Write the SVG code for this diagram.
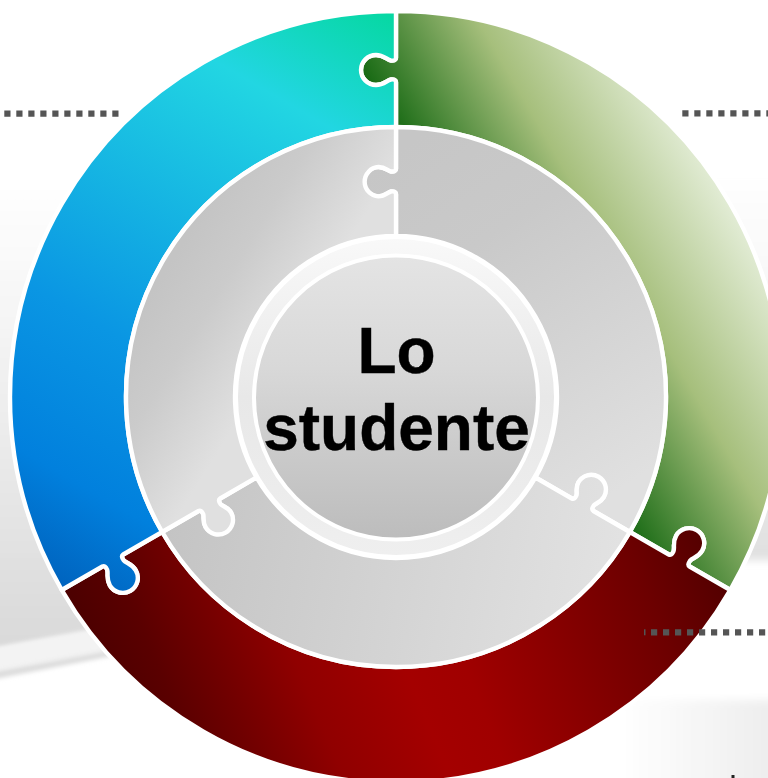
<svg xmlns="http://www.w3.org/2000/svg" width="768" height="778" viewBox="0 0 768 778">
<style>
.seg{stroke:#fff;stroke-width:4.4;stroke-linejoin:round}
.dots{fill:none;stroke:#555;stroke-width:6.2;stroke-dasharray:6.2 5.8}
.label{font-family:"Liberation Sans",Arial,sans-serif;font-weight:700;font-size:64px;fill:#000;stroke:#000;stroke-width:.4;text-anchor:middle}
</style>
<defs>
<filter id="b2" x="-20%" y="-20%" width="140%" height="140%"><feGaussianBlur stdDeviation="2"/></filter>
<filter id="b4" x="-20%" y="-20%" width="140%" height="140%"><feGaussianBlur stdDeviation="4"/></filter>
<linearGradient id="bgLeft" gradientUnits="userSpaceOnUse" x1="0" y1="180" x2="0" y2="650">
<stop offset="0" stop-color="#fff"/><stop offset=".3" stop-color="#f5f5f5"/><stop offset=".7" stop-color="#e5e5e5"/><stop offset="1" stop-color="#d9d9d9"/>
</linearGradient>
<linearGradient id="bgRight" gradientUnits="userSpaceOnUse" x1="0" y1="170" x2="0" y2="560">
<stop offset="0" stop-color="#fff"/><stop offset=".35" stop-color="#f6f6f6"/><stop offset="1" stop-color="#e0e0e0"/>
</linearGradient>
<linearGradient id="bgBottom" gradientUnits="userSpaceOnUse" x1="620" y1="0" x2="768" y2="0">
<stop offset="0" stop-color="#fff"/><stop offset="1" stop-color="#eee"/>
</linearGradient>
<linearGradient id="gGreen" gradientUnits="userSpaceOnUse" x1="512" y1="330" x2="730" y2="204">
<stop offset="0" stop-color="#186a14"/><stop offset=".5" stop-color="#a6bf7c"/><stop offset="1" stop-color="#e2ecd5"/>
</linearGradient>
<linearGradient id="gRed" gradientUnits="userSpaceOnUse" x1="46" y1="541" x2="617" y2="306" gradientTransform="rotate(-120 396 397)">
<stop offset="0" stop-color="#4c0000"/><stop offset=".09" stop-color="#5a0000"/><stop offset=".185" stop-color="#720000"/><stop offset=".3" stop-color="#900000"/><stop offset=".46" stop-color="#a40000"/><stop offset=".55" stop-color="#a00000"/><stop offset=".68" stop-color="#8c0000"/><stop offset=".87" stop-color="#6c0000"/><stop offset="1" stop-color="#520000"/>
</linearGradient>
<linearGradient id="gBlue" gradientUnits="userSpaceOnUse" x1="563" y1="108" x2="229" y2="686" gradientTransform="rotate(-240 396 397)">
<stop offset="0" stop-color="#05d8a0"/><stop offset=".2" stop-color="#22d6e2"/><stop offset=".63" stop-color="#0a96e3"/><stop offset=".85" stop-color="#0180dd"/><stop offset="1" stop-color="#0063be"/>
</linearGradient>
<linearGradient id="gIn1" gradientUnits="userSpaceOnUse" x1="430" y1="130" x2="650" y2="470">
<stop offset="0" stop-color="#c6c6c6"/><stop offset=".3" stop-color="#c9c9c9"/><stop offset="1" stop-color="#e0e0e0"/>
</linearGradient>
<linearGradient id="gIn2" gradientUnits="userSpaceOnUse" x1="170" y1="520" x2="610" y2="600" gradientTransform="rotate(-120 396 397)">
<stop offset="0" stop-color="#c4c4c4"/><stop offset="1" stop-color="#e2e2e2"/>
</linearGradient>
<linearGradient id="gIn3" gradientUnits="userSpaceOnUse" x1="216" y1="190" x2="335" y2="264" gradientTransform="rotate(-240 396 397)">
<stop offset="0" stop-color="#c4c4c4"/><stop offset=".4" stop-color="#cbcbcb"/><stop offset="1" stop-color="#e0e0e0"/>
</linearGradient>
<linearGradient id="gRing" x1="0" y1="0" x2="0" y2="1">
<stop offset="0" stop-color="#f9f9f9"/><stop offset=".5" stop-color="#e8e8e8"/><stop offset="1" stop-color="#efefef"/>
</linearGradient>
<linearGradient id="gHub" x1="0" y1="0" x2="0" y2="1">
<stop offset="0" stop-color="#e4e4e4"/><stop offset=".4" stop-color="#d8d8d8"/><stop offset="1" stop-color="#bcbcbc"/>
</linearGradient>
<path id="segOuter" d="M396 11A386 386 0 0 1 730.3 590L689.6 566.5Q687 565 689.9 560.9C692.3 557.7 698.2 557.6 702.2 550.7A15 15 0 0 0 676.2 535.7C672.2 542.6 675 547.7 673.5 551.4Q671.4 556 668.8 554.5L629.8 532A270 270 0 0 0 396 127L396 82Q396 79 391 79.5C387 80 384 85 376 85A15 15 0 0 1 376 55C384 55 387 60 391 60.5Q396 61 396 58Z"/>
<path id="segInner" d="M396 127A270 270 0 0 1 629.8 532L593.5 511Q590.9 509.5 593.8 505.4C595.7 503.1 600.7 502.5 603.9 496.8A14.7 14.7 0 0 0 578.5 482.1C575.2 487.8 577.5 492.6 576.5 495.4Q574.4 500 571.8 498.5L535.4 477.5A161 161 0 0 0 396 236L396 194Q396 191 391 191.5C388 192 385 196.4 378.5 196.4A14.7 14.7 0 0 1 378.5 167C385 167 388 171 391 171.5Q396 172 396 169Z"/>
</defs>
<rect id="background" width="768" height="778" fill="#fff"/>
<g id="swoosh">
<path d="M-20 180L150 180L150 622L-20 652Z" fill="url(#bgLeft)" filter="url(#b2)"/>
<path d="M-20 650L130 622L130 648L-20 674Z" fill="#f3f3f3" filter="url(#b2)"/>
<path d="M-20 674L112 650L112 656L-20 682Z" fill="#dcdcdc" filter="url(#b2)"/>
<path d="M690 170L790 170L790 560L690 560Z" fill="url(#bgRight)" filter="url(#b4)"/>
<rect x="600" y="700" width="190" height="96" fill="url(#bgBottom)" filter="url(#b4)"/>
</g>
<g id="node-green"><use href="#segOuter" class="seg" fill="url(#gGreen)"/></g>
<g id="node-red"><use href="#segOuter" class="seg" fill="url(#gRed)" transform="rotate(120 396 397)"/></g>
<g id="node-blue"><use href="#segOuter" class="seg" fill="url(#gBlue)" transform="rotate(240 396 397)"/></g>
<g id="node-inner-right"><use href="#segInner" class="seg" fill="url(#gIn1)"/></g>
<g id="node-inner-bottom"><use href="#segInner" class="seg" fill="url(#gIn2)" transform="rotate(120 396 397)"/></g>
<g id="node-inner-left"><use href="#segInner" class="seg" fill="url(#gIn3)" transform="rotate(240 396 397)"/></g>
<g id="connectors">
<line class="dots" x1="4.3" y1="113.7" x2="120" y2="113.7"/>
<line class="dots" x1="682.3" y1="113.3" x2="768" y2="113.3"/>
<line class="dots" x1="651" y1="632.3" x2="768" y2="632.3"/>
<rect x="644" y="629.3" width="1.5" height="6" fill="#555"/>
</g>
<g id="node-center">
<circle cx="396" cy="397" r="160" fill="url(#gRing)" stroke="#fff" stroke-width="4"/>
<circle cx="396" cy="397.5" r="142" fill="url(#gHub)" stroke="#fff" stroke-width="4"/>
<text class="label" x="396.5" y="373">Lo</text>
<text class="label" x="396.5" y="450">studente</text>
</g>
<rect x="731.5" y="775" width="3" height="3" fill="#222"/>
</svg>
